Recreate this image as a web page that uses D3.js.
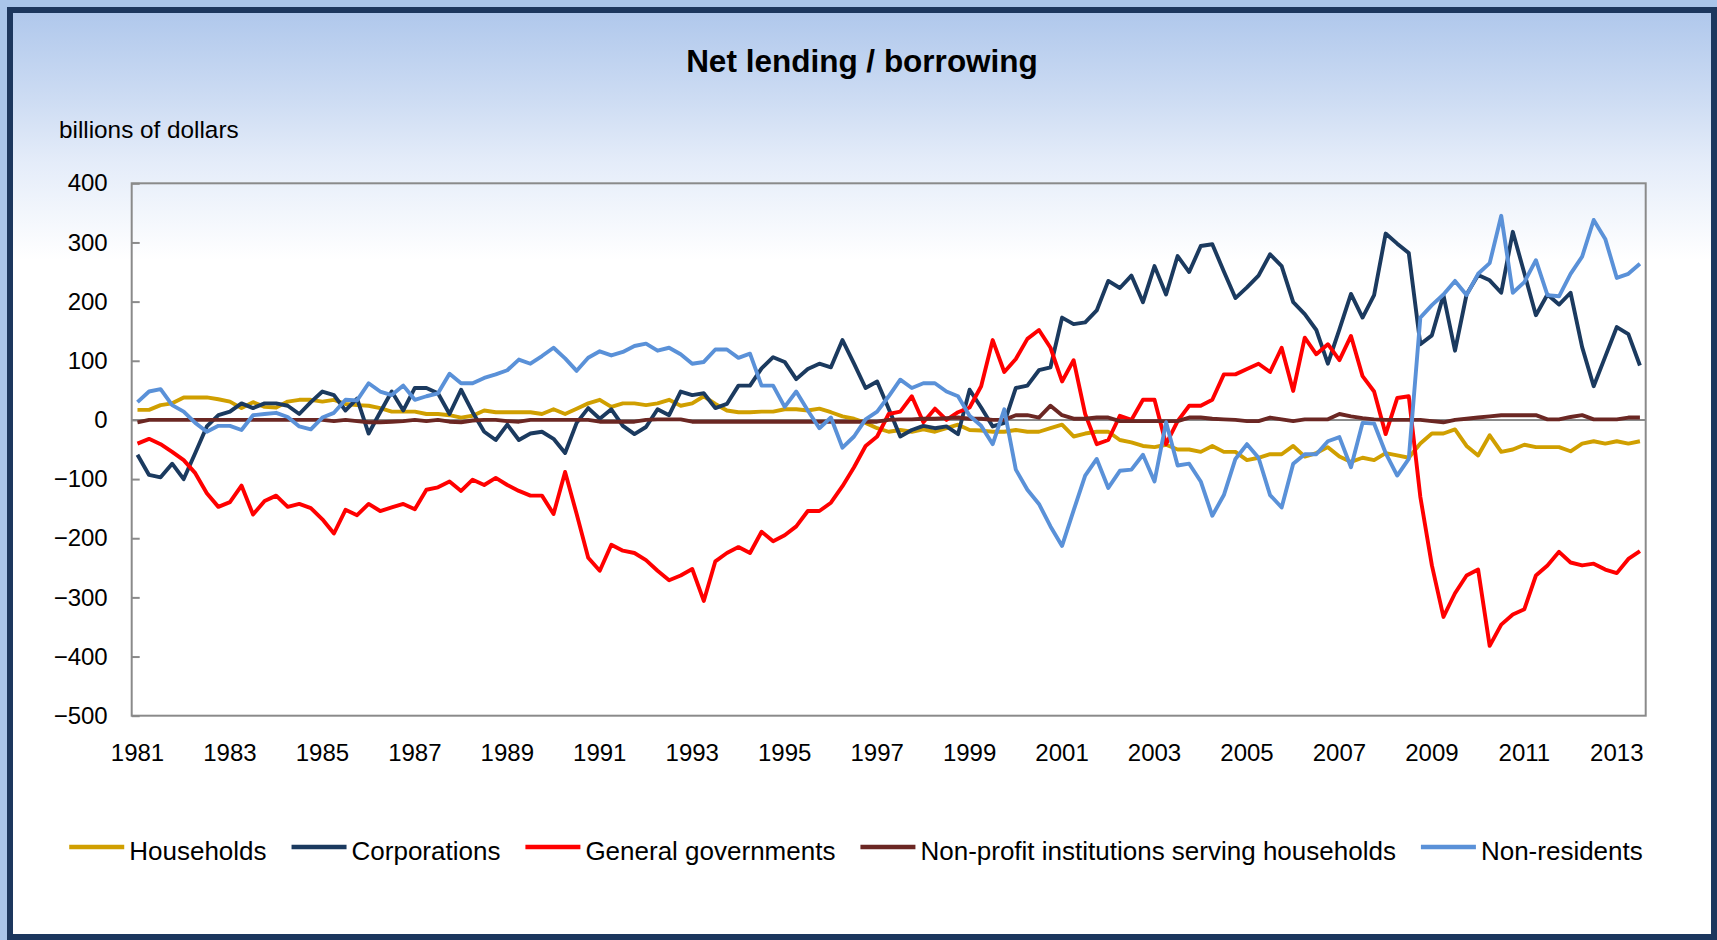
<!DOCTYPE html>
<meta charset="utf-8">
<style>
body { margin: 0; background: #a9c5ea; }
svg { display: block; font-family: "Liberation Sans", Arial, sans-serif; }
.axis path { display: none; }
.axis text { font-size: 24px; fill: #000; }
.axis line { stroke: #8a8a8a; stroke-width: 2; }
.series { fill: none; stroke-width: 3.9; stroke-linejoin: round; }
</style>
<body>
<svg width="1717" height="940"></svg>

<script src="https://d3js.org/d3.v7.min.js"></script>
<script>

// quarterly series, 1981Q1 .. 2013Q3 (billions of dollars)
var startYear = 1981, nQuarters = 131;
var quarters = d3.range(nQuarters).map(function(i) {
  return (startYear + Math.floor(i / 4)) + "Q" + (i % 4 + 1);
});

var yearLabels = ["1981","1983","1985","1987","1989","1991","1993","1995","1997",
                  "1999","2001","2003","2005","2007","2009","2011","2013"];
var yTicks = [400, 300, 200, 100, 0, -100, -200, -300, -400, -500];

var seriesNames = ["Households", "Corporations", "General governments",
                   "Non-profit institutions serving households", "Non-residents"];
var seriesColors = ["#d09f00", "#1b3a5f", "#ff0000", "#6b2723", "#5a91d8"];

var households = [
  17, 17, 25, 28, 38, 38, 38, 35, 31, 20, 30, 22, 21, 31, 34, 34, 31, 34,
  27, 25, 24, 20, 14, 14, 14, 10, 10, 8, 4, 7, 16, 13, 13, 13, 13, 10,
  18, 10, 19, 28, 34, 22, 28, 28, 25, 28, 34, 24, 28, 40, 27, 16, 13, 13,
  14, 14, 18, 18, 16, 19, 13, 6, 2, -5, -14, -20, -17, -20, -16, -20, -14,
  -8, -17, -18, -20, -20, -17, -20, -20, -14, -8, -28, -23, -20, -20, -34, -38, -44, -46,
  -42, -50, -50, -54, -44, -54, -54, -68, -64, -58, -58, -44, -62, -56, -46, -62, -71, -64,
  -68, -56, -60, -64, -40, -23, -23, -16, -44, -60, -26, -54, -50, -42, -46, -46, -46, -53,
  -40, -36, -40, -36, -40, -36
];

var corporations = [
  -59, -93, -97, -74, -100, -56, -11, 8, 14, 28, 20, 28, 28, 24, 10, 30, 48, 42,
  16, 36, -23, 13, 48, 16, 54, 54, 45, 10, 51, 13, -20, -34, -8, -34, -23, -20,
  -32, -56, -5, 20, 2, 18, -10, -24, -12, 18, 8, 48, 42, 45, 20, 27, 58, 58,
  87, 106, 98, 69, 86, 95, 89, 135, 95, 54, 65, 19, -28, -17, -10, -14, -11,
  -24, 51, 21, -11, -5, 54, 58, 84, 89, 173, 162, 165, 185, 235, 223, 244, 199, 260,
  212, 277, 250, 294, 297, 251, 206, 224, 244, 280, 260, 199, 179, 152, 95, 153, 213, 173,
  211, 315, 298, 282, 128, 143, 211, 117, 212, 245, 236, 215, 318, 248, 177, 212, 195, 215,
  123, 57, 107, 157, 145, 92
];

var governments = [
  -40, -32, -41, -54, -68, -90, -124, -147, -139, -111, -160, -137, -128, -147, -142, -149, -168, -192,
  -152, -161, -142, -154, -148, -142, -151, -118, -114, -104, -120, -101, -110, -98, -110, -120, -128, -128,
  -159, -88, -159, -233, -255, -211, -221, -225, -237, -255, -271, -263, -252, -306, -239, -225, -215, -225,
  -189, -205, -195, -180, -154, -154, -140, -112, -80, -44, -28, 10, 14, 40, -4, 19, 0,
  13, 21, 57, 135, 81, 103, 137, 152, 122, 65, 101, 10, -41, -34, 7, 0, 34, 34,
  -41, -2, 24, 24, 34, 77, 77, 86, 95, 81, 122, 49, 139, 111, 128, 101, 142, 74,
  48, -24, 37, 40, -130, -246, -333, -293, -263, -253, -382, -346, -329, -320, -263, -246, -223, -241,
  -246, -243, -253, -259, -235, -222
];

var nonProfit = [
  -4, 0, 0, 0, 0, 0, 0, 0, 0, 0, 0, 0, 0, 0, 0, 0, 0, -2,
  0, -2, -4, -4, -3, -2, 0, -2, 0, -3, -4, -1, 0, 0, -2, -3, 0, 0,
  0, 0, 0, 0, -3, -3, -3, -3, 0, 1, 1, 1, -3, -3, -3, -3, -3, -3,
  -3, -3, -3, -3, -3, -3, -3, -3, -3, -3, -3, 0, 1, 1, 2, 2, 3,
  4, 2, 2, 0, 0, 8, 8, 4, 24, 8, 2, 2, 4, 4, -2, -2, -2, -2,
  -2, -2, 4, 4, 2, 1, 0, -2, -2, 4, 1, -2, 1, 1, 1, 10, 6, 3,
  1, 0, 0, 0, 0, -2, -4, 0, 2, 4, 6, 8, 8, 8, 8, 1, 1, 5,
  8, 1, 1, 1, 4, 4
];

var nonResidents = [
  30, 48, 52, 25, 14, -5, -20, -10, -10, -17, 8, 10, 12, 5, -11, -16, 4, 12,
  34, 33, 62, 48, 42, 58, 34, 40, 45, 78, 62, 62, 71, 77, 84, 102, 95, 108,
  122, 104, 83, 105, 116, 109, 115, 125, 129, 117, 122, 111, 95, 98, 119, 119, 105, 112,
  58, 58, 22, 48, 16, -14, 4, -47, -28, 1, 14, 40, 68, 54, 62, 62, 48,
  40, 7, -10, -41, 18, -84, -118, -142, -180, -213, -153, -94, -66, -115, -86, -84, -59, -104,
  -4, -77, -74, -104, -162, -127, -66, -41, -64, -127, -148, -74, -58, -58, -36, -29, -80, -5,
  -6, -56, -94, -66, 173, 194, 212, 235, 211, 247, 265, 345, 215, 233, 270, 211, 209, 247,
  276, 338, 306, 240, 247, 264
];

var allSeries = [households, corporations, governments, nonProfit, nonResidents];

var svg = d3.select("svg");
var W = 1717, H = 940;
var plot = {left: 131.7, right: 1645.7, top: 183.3, bottom: 715.7};

// background gradient inside the frame
var defs = svg.append("defs");
var grad = defs.append("linearGradient")
    .attr("id", "bg")
    .attr("gradientUnits", "userSpaceOnUse")
    .attr("x1", 0).attr("y1", 13).attr("x2", 0).attr("y2", 260);
grad.append("stop").attr("offset", "0").attr("stop-color", "#b0c8ec");
grad.append("stop").attr("offset", "0.35").attr("stop-color", "#cddcf3");
grad.append("stop").attr("offset", "0.6").attr("stop-color", "#e4ecf9");
grad.append("stop").attr("offset", "1").attr("stop-color", "#ffffff");

svg.append("rect")
    .attr("width", W).attr("height", H)
    .attr("fill", "#a9c5ea");

svg.append("rect")
    .attr("x", 10).attr("y", 10)
    .attr("width", 1704).attr("height", 927)
    .attr("fill", "url(#bg)")
    .attr("stroke", "#1c375e")
    .attr("stroke-width", 6);

svg.append("text")
    .attr("x", 862).attr("y", 72)
    .attr("text-anchor", "middle")
    .style("font-size", "31.5px")
    .style("font-weight", "bold")
    .text("Net lending / borrowing");

svg.append("text")
    .attr("x", 59).attr("y", 138)
    .style("font-size", "24.3px")
    .text("billions of dollars");

var x = d3.scaleBand().domain(quarters).range([plot.left, plot.right]);
var y = d3.scaleLinear().domain([-500, 400]).range([plot.bottom, plot.top]);
var xc = function(q) { return x(q) + x.bandwidth() / 2; };

// plot area border
svg.append("rect")
    .attr("x", plot.left).attr("y", plot.top)
    .attr("width", plot.right - plot.left).attr("height", plot.bottom - plot.top)
    .attr("fill", "none")
    .attr("stroke", "#8a8a8a")
    .attr("stroke-width", 2);

svg.append("g")
    .attr("class", "axis axis--y")
    .attr("transform", "translate(" + plot.left + ",0)")
    .call(d3.axisLeft(y).tickValues(yTicks).tickSize(-8).tickPadding(24));

svg.append("g")
    .attr("class", "axis axis--x")
    .attr("transform", "translate(0," + plot.bottom + ")")
    .call(d3.axisBottom(x)
        .tickValues(yearLabels.map(function(yr) { return yr + "Q1"; }))
        .tickFormat(function(q) { return q.slice(0, 4); })
        .tickSize(0).tickPadding(28));

// zero line
svg.append("line")
    .attr("x1", plot.left).attr("x2", plot.right)
    .attr("y1", y(0)).attr("y2", y(0))
    .attr("stroke", "#8a8a8a")
    .attr("stroke-width", 2);

var line = d3.line()
    .x(function(v, i) { return xc(quarters[i]); })
    .y(function(v) { return y(v); });

svg.selectAll(".series")
    .data(allSeries)
    .enter().append("path")
      .attr("class", "series")
      .attr("stroke", function(d, i) { return seriesColors[i]; })
      .attr("d", line);

// legend, laid out left to right and centred
var legend = svg.append("g").attr("class", "legend");
var items = legend.selectAll("g")
    .data(seriesNames)
    .enter().append("g");
items.append("line")
    .attr("x1", 0).attr("x2", 55)
    .attr("y1", 847).attr("y2", 847)
    .attr("stroke", function(d, i) { return seriesColors[i]; })
    .attr("stroke-width", 4.5);
items.append("text")
    .attr("x", 60).attr("y", 860)
    .style("font-size", "26px")
    .text(function(d) { return d; });

var pos = 0, offsets = [];
items.each(function() {
  offsets.push(pos);
  pos += 60 + this.querySelector("text").getComputedTextLength() + 25;
});
var total = pos - 25;
var start = 856 - total / 2;
items.attr("transform", function(d, i) { return "translate(" + (start + offsets[i]) + ",0)"; });

</script>
</body>
